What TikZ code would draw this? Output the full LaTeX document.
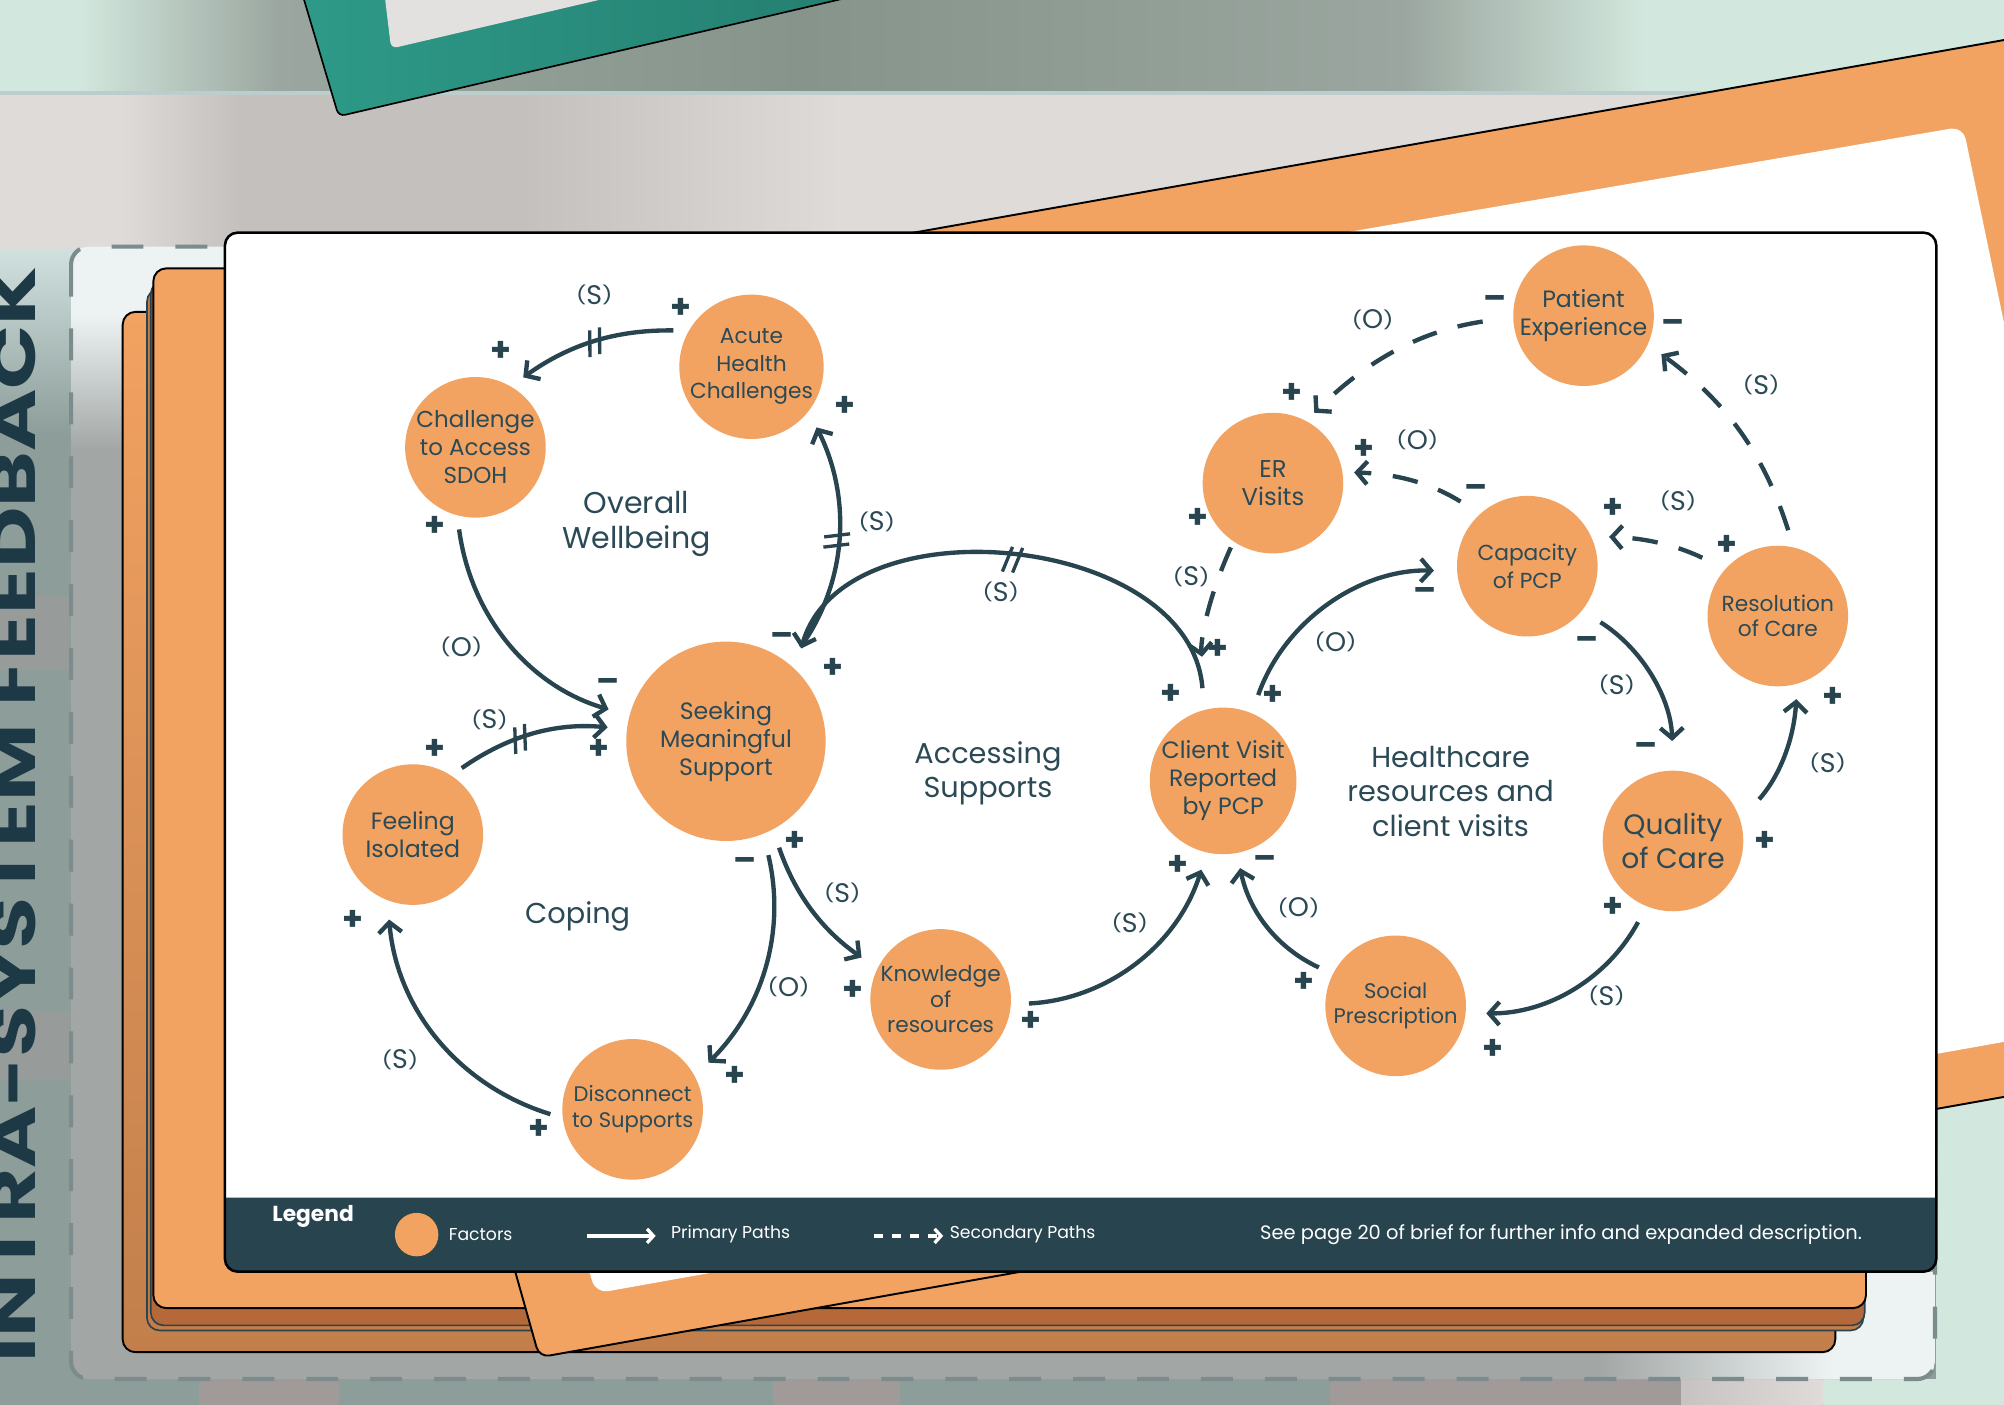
\documentclass[tikz,border=0pt]{standalone}
\usepackage{fontspec}
\usepackage{graphicx}
\setmainfont{Poppins}
\usetikzlibrary{arrows.meta,decorations.markings,calc}

\definecolor{tealdk}{HTML}{27444F}
\definecolor{txt}{HTML}{2B4A56}
\definecolor{org}{HTML}{F2A261}
\definecolor{orgdk}{HTML}{C27F4B}
\definecolor{orgbr}{HTML}{B5693A}
\definecolor{orgmid}{HTML}{C77B45}
\definecolor{mint}{HTML}{D2E7DD}
\definecolor{gdarkA}{HTML}{9AA69F}
\definecolor{gdarkB}{HTML}{86948B}
\definecolor{gbA}{HTML}{DEDBD8}
\definecolor{gbB}{HTML}{C4C0BD}
\definecolor{greyteal}{HTML}{8D9D9A}
\definecolor{ltop}{HTML}{D3E3E1}
\definecolor{boxg}{HTML}{A2A7A6}
\definecolor{boxl}{HTML}{EDF2F2}
\definecolor{dashc}{HTML}{7C8B8B}
\definecolor{tealA}{HTML}{2E9A88}
\definecolor{tealB}{HTML}{237A6C}
\definecolor{innerg}{HTML}{E2E1E0}
\definecolor{tile}{HTML}{A09A99}
\definecolor{vtext}{HTML}{1D3946}

\newcommand{\pth}[1]{\raisebox{2.2pt}{\scalebox{0.85}[0.66]{(}}#1\raisebox{2.2pt}{\scalebox{0.85}[0.66]{)}}}

\pgfdeclarehorizontalshading{topband}{100bp}{color(0bp)=(mint); color(25bp)=(mint); color(27bp)=(mint); color(32bp)=(gdarkA); color(45bp)=(gdarkB); color(60bp)=(gdarkA); color(66bp)=(mint); color(75bp)=(mint); color(100bp)=(mint)}
\pgfdeclarehorizontalshading{greyb}{100bp}{color(0bp)=(gbA); color(25bp)=(gbA); color(28bp)=(gbA); color(31bp)=(gbB); color(38bp)=(gbB); color(46bp)=(gbA); color(75bp)=(gbA); color(100bp)=(gbA)}
\pgfdeclareverticalshading{boxsh}{100bp}{color(0bp)=(boxg); color(25bp)=(boxg); color(66bp)=(boxg); color(72bp)=(boxl); color(75bp)=(boxl); color(100bp)=(boxl)}

\begin{document}
\begin{tikzpicture}[x=1pt,y=-1pt,
  factor/.style={circle, fill=org, text=txt, align=center, inner sep=0pt, minimum size=110pt, font=\fontsize{17}{21.5}\selectfont},
  parr/.style={draw=tealdk, line width=3.4pt, -{Straight Barb[length=8pt,width=18pt]}},
  sarr/.style={parr, dash pattern=on 20pt off 17pt},
  lbl/.style={text=txt, font=\fontsize{21}{22}\selectfont, inner sep=0pt},
  sgn/.style={text=tealdk, font=\bfseries\fontsize{26}{26}\selectfont, inner sep=0pt},
  sgnm/.style={sgn, yshift=-3.5pt},
  region/.style={text=txt, align=center, font=\fontsize{22.5}{27}\selectfont},
  legtxt/.style={text=white, font=\fontsize{13.5}{14}\selectfont, inner sep=0pt},
  hatchA/.style={postaction={decorate,decoration={markings,mark=at position #1 with {\draw[-,solid,line width=2.6pt,shorten <=0pt,shorten >=0pt,draw=tealdk] (-7pt,-10pt) -- (-1pt,10pt) (1pt,-10pt) -- (7pt,10pt);}}}},
  hatchB/.style={postaction={decorate,decoration={markings,mark=at position #1 with {\draw[-,solid,line width=2.6pt,shorten <=0pt,shorten >=0pt,draw=tealdk] (-2pt,-10pt) -- (-6pt,10pt) (6pt,-10pt) -- (2pt,10pt);}}}}
]
\useasboundingbox (0,0) rectangle (1568,1099);
\clip (0,0) rectangle (1568,1099);

% ---------- background ----------
\fill[greyteal] (0,0) rectangle (1568,1099);
\shade[top color=ltop, bottom color=greyteal] (0,190) rectangle (1568,340);
\fill[mint] (1515,190) rectangle (1568,1099);
\fill[mint] (1426,1079) rectangle (1515,1099);
\shade[left color=tile!60!white, right color=gbA] (1315,1079) rectangle (1426,1099);
\fill[tile] (156,1079) rectangle (265,1099);
\fill[tile] (605,1079) rectangle (704,1099);
\fill[tile] (1041,1079) rectangle (1315,1099);
\fill[tile, opacity=0.55] (0,466) rectangle (55,524);
\fill[tile, opacity=0.55] (0,791) rectangle (55,845);
\shade[shading=topband] (0,0) rectangle (1568,73);
\shade[shading=greyb] (0,73) rectangle (1568,195);
\fill[gbA!85!teal] (0,71) rectangle (1568,74);

% vertical title
\node[rotate=90, anchor=base west, inner sep=0pt, text=vtext] (vtitle) at (28,1066)
  {\resizebox{857pt}{35pt}{\bfseries INTRA-SYSTEM FEEDBACK}};

% teal frame at top
\draw[line width=1.3pt, left color=tealA, right color=tealB, rounded corners=5pt] (232,-20) -- (265,91) -- (741,-20);
\fill[innerg, rounded corners=5pt] (299,-20) -- (306,38) -- (554,-20);

% dashed box
\shade[shading=boxsh, rounded corners=14pt] (55.6,193) rectangle (1514,1079);
\begin{scope}
  \clip[rounded corners=14pt] (55.6,193) rectangle (1514,1079);
  \shade[left color=boxg, right color=boxl] (1250,995) rectangle (1434,1079);
  \fill[boxl] (1434,995) rectangle (1514,1079);
\end{scope}
\draw[draw=dashc, line width=3.2pt, dash pattern=on 25pt off 25pt, rounded corners=14pt] (55.6,193) rectangle (1514,1079);

% stacked layers
\draw[line width=1.5pt, rounded corners=10pt, top color=org, bottom color=orgdk] (96,244) rectangle (1436,1058);
\draw[draw=tealdk, line width=1.3pt, fill=orgmid, rounded corners=10pt] (115,226) rectangle (1458,1041);
\draw[draw=tealdk, line width=1.3pt, fill=orgbr, rounded corners=10pt] (118,220) rectangle (1459,1037);
\draw[line width=1.5pt, fill=org, rounded corners=10pt] (120,210) rectangle (1460,1023.5);

% orange frame
\draw[line width=1.5pt, fill=org, rounded corners=8pt] (200,273) -- (1700,8) -- (1800,817) -- (422,1062) -- cycle;
\fill[white, rounded corners=10pt] (271,316) -- (1536,99) -- (1681,795) -- (466,1012) -- cycle;

% main card
\fill[white, rounded corners=10pt] (176,182) rectangle (1515,995);
\fill[tealdk] (176,937) -- (1515,937) {[rounded corners=10pt] -- (1515,995) -- (176,995)} -- cycle;
\draw[line width=2pt, rounded corners=10pt] (176,182) rectangle (1515,995);

% ---------- region labels ----------
\node[region, font=\fontsize{23.5}{27}\selectfont] (rOW) at (498,410) {Overall\\Wellbeing};
\node[region] (rAS) at (773,605) {Accessing\\Supports};
\node[region] (rCo) at (452,717) {Coping};
\node[region] (rHC) at (1135,619) {Healthcare\\resources and\\client visits};

% ---------- factors ----------
\node[factor, font=\fontsize{18}{22}\selectfont] (sdoh) at (372,350) {Challenge\\to Access\\SDOH};
\node[factor] (acute) at (588,287) {Acute\\Health\\Challenges};
\node[factor, minimum size=156pt, font=\fontsize{18.5}{22}\selectfont] (seek) at (568,580) {Seeking\\Meaningful\\Support};
\node[factor, font=\fontsize{18.5}{22}\selectfont] (feel) at (323,653) {Feeling\\Isolated};
\node[factor, font=\fontsize{16.5}{20}\selectfont] (disc) at (495,868) {Disconnect\\to Supports};
\node[factor, font=\fontsize{17}{20}\selectfont] (know) at (736,782) {Knowledge\\of\\resources};
\node[factor, font=\fontsize{18.5}{22}\selectfont] (cv) at (957,611) {Client Visit\\Reported\\by PCP};
\node[factor, font=\fontsize{19}{22}\selectfont] (er) at (996,378) {ER\\Visits};
\node[factor, font=\fontsize{18.5}{22}\selectfont] (pe) at (1239,247) {Patient\\Experience};
\node[factor] (cap) at (1195,443) {Capacity\\of PCP};
\node[factor, font=\fontsize{17}{20}\selectfont] (res) at (1391,482) {Resolution\\of Care};
\node[factor, font=\fontsize{22}{26}\selectfont] (qual) at (1309,658) {Quality\\of Care};
\node[factor, font=\fontsize{16.5}{20}\selectfont] (soc) at (1092,787) {Social\\Prescription};

% ---------- primary paths ----------
\draw[parr, shorten <=12pt, shorten >=12pt, hatchA=0.5] (acute.150) to[bend right=18] (sdoh.60);
\draw[parr, shorten <=11pt, shorten >=17pt] (sdoh.255) to[bend right=33] (seek.165);
\draw[parr, shorten <=16pt, shorten >=14pt, hatchB=0.5] (seek.51) to[bend right=31] (acute.-38);
\draw[parr, shorten <=17pt, shorten >=17pt, hatchA=0.5] (cv.105) to[bend right=80, looseness=1.1] (seek.46);
\draw[parr, shorten <=10pt, shorten >=15pt, hatchA=0.42] (feel.57) to[bend left=20] (seek.173);
\draw[parr, shorten <=17pt, shorten >=15pt] (seek.-68) to[bend left=29] (disc.28);
\draw[parr, shorten <=10pt, shorten >=15pt] (disc.187) to[bend left=34] (feel.249);
\draw[parr, shorten <=15pt, shorten >=15pt] (seek.-62) to[bend right=18] (know.154);
\draw[parr, shorten <=14pt, shorten >=14pt] (know.-4) to[bend right=35] (cv.257);
\draw[parr, shorten <=15pt, shorten >=18pt] (cv.67) to[bend left=36] (cap.184);
\draw[parr, shorten <=17pt, shorten >=23pt] (cap.-39) to[bend left=28] (qual.90);
\draw[parr, shorten <=22pt, shorten >=12pt] (qual.17) to[bend right=19] (res.-74);
\draw[parr, shorten <=14pt, shorten >=16pt] (qual.248) to[bend left=31] (soc.-6);
\draw[parr, shorten <=12pt, shorten >=12pt] (soc.153) to[bend left=27] (cv.-79);

% ---------- secondary paths ----------
\draw[sarr, shorten <=24pt, shorten >=9pt] (pe.181) to[bend right=18] (er.62);
\draw[sarr, shorten <=14pt, shorten >=13pt] (res.77) to[bend right=18] (pe.-24);
\draw[sarr, shorten <=18pt, shorten >=9pt] (cap.132) to[bend right=15] (er.9);
\draw[sarr, shorten <=20pt, shorten >=14pt] (res.138) to[bend right=12] (cap.25);
\draw[sarr, shorten <=5pt, shorten >=41pt] (er.236) to[bend right=16] (cv.101);

% ---------- link labels ----------
\node[lbl] (la) at (465,231) {\pth{S}};
\node[sgn] (pa1) at (533,241) {+};
\node[sgn] (pa2) at (392,275) {+};
\node[sgn] (pb1) at (340,412) {+};
\node[lbl] (lb) at (361,506) {\pth{O}};
\node[sgnm] (mb2) at (476,533) {–};
\node[sgnm] (mc1) at (612,497) {–};
\node[sgn] (pc2) at (661,318) {+};
\node[lbl] (lc) at (686,408) {\pth{S}};
\node[lbl] (ld) at (783,463) {\pth{S}};
\node[sgn] (pd1) at (916,543) {+};
\node[sgn] (pd2) at (652,523) {+};
\node[lbl] (le) at (383,563) {\pth{S}};
\node[sgn] (pe1) at (340,586) {+};
\node[sgn] (pe2) at (469,586) {+};
\node[sgnm] (mf1) at (583,673) {–};
\node[lbl] (lf) at (617,772) {\pth{O}};
\node[sgn] (pf2) at (575,842) {+};
\node[sgn] (pg1) at (422,884) {+};
\node[lbl] (lg) at (313,829) {\pth{S}};
\node[sgn] (pg2) at (276,720) {+};
\node[sgn] (ph1) at (622,658) {+};
\node[lbl] (lh) at (659,699) {\pth{S}};
\node[sgn] (ph2) at (667,775) {+};
\node[sgn] (pi1) at (807,799) {+};
\node[lbl] (li) at (884,722) {\pth{S}};
\node[sgn] (pi2) at (922,677) {+};
\node[sgn] (pj1) at (996,544) {+};
\node[lbl] (lj) at (1045,502) {\pth{O}};
\node[sgnm] (mj2) at (1115,462) {–};
\node[sgnm] (mk1) at (1242,500) {–};
\node[lbl] (lk) at (1265,536) {\pth{S}};
\node[sgnm] (mk2) at (1288,583) {–};
\node[sgn] (pl1) at (1381,658) {+};
\node[lbl] (ll) at (1430,597) {\pth{S}};
\node[sgn] (pl2) at (1434,546) {+};
\node[sgn] (pm1) at (1262,710) {+};
\node[lbl] (lm) at (1257,779) {\pth{S}};
\node[sgn] (pm2) at (1168,821) {+};
\node[sgn] (pn1) at (1020,769) {+};
\node[lbl] (ln) at (1016,710) {\pth{O}};
\node[sgnm] (mn2) at (990,671) {–};
\node[sgnm] (mo1) at (1170,233) {–};
\node[lbl] (lo) at (1074,250) {\pth{O}};
\node[sgn] (po2) at (1011,308) {+};
\node[lbl] (lp) at (1378,301) {\pth{S}};
\node[sgnm] (mp2) at (1309,252) {–};
\node[sgn] (pq2) at (1067,352) {+};
\node[lbl] (lq) at (1109,344) {\pth{O}};
\node[sgnm] (mq1) at (1155,381) {–};
\node[sgn] (pr2) at (1262,398) {+};
\node[lbl] (lr) at (1313,392) {\pth{S}};
\node[sgn] (pr1) at (1351,427) {+};
\node[sgn] (ps1) at (937,406) {+};
\node[lbl] (ls) at (932,451) {\pth{S}};
\node[sgn] (ps2) at (953,508) {+};

% ---------- legend ----------
\node[text=white, font=\bfseries\fontsize{17}{17}\selectfont, inner sep=0pt] (legtitle) at (245,952) {Legend};
\node[circle, fill=org, minimum size=34pt, inner sep=0pt] (legfac) at (326,966) {};
\node[legtxt, anchor=west] (legfact) at (351,966) {Factors};
\coordinate (lp1) at (459,967);
\coordinate (lp2) at (513,967);
\draw[white, line width=2.6pt, -{Straight Barb[length=5pt,width=11pt]}] (lp1) -- (lp2);
\node[legtxt, anchor=west] (legprim) at (525,966) {Primary Paths};
\coordinate (ls1) at (684,967);
\coordinate (ls2) at (738,967);
\draw[white, line width=2.6pt, dash pattern=on 7pt off 7pt, -{Straight Barb[length=5pt,width=11pt]}] (ls1) -- (ls2);
\node[legtxt, anchor=west] (legsec) at (743,966) {Secondary Paths};
\node[legtxt, anchor=east, font=\fontsize{15.2}{16}\selectfont] (legsee) at (1457,966) {See page 20 of brief for further info and expanded description.};
\end{tikzpicture}
\end{document}
